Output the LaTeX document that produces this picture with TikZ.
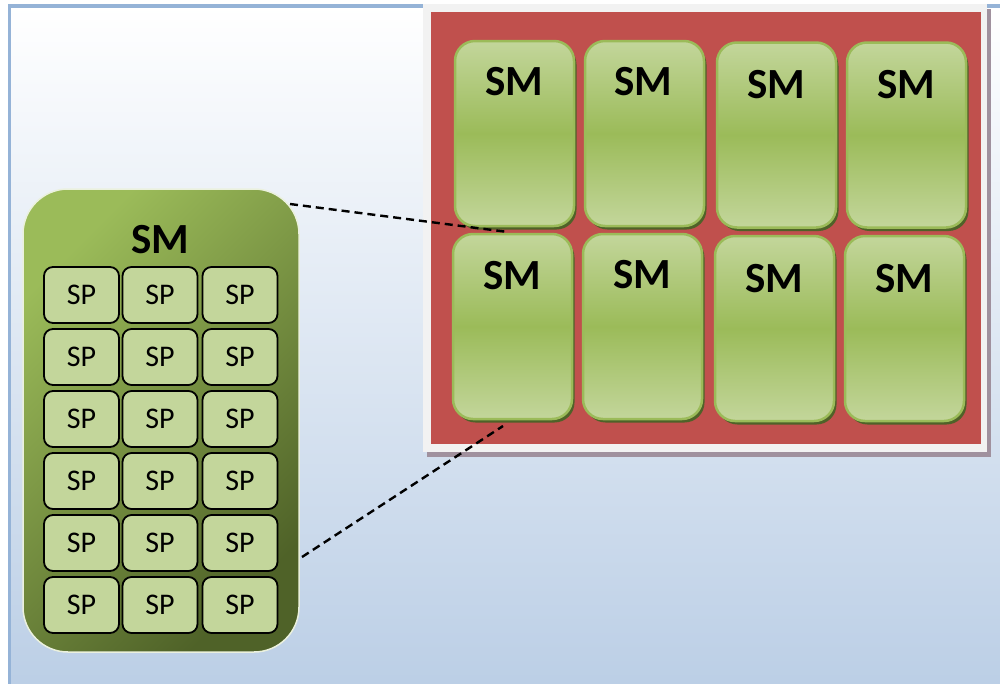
\documentclass[tikz,border=0pt]{standalone}
\usepackage{fontspec}
\setmainfont{Carlito}
\usetikzlibrary{shadows}
\definecolor{panelborder}{HTML}{95B3D7}
\definecolor{panelbot}{HTML}{B9CDE5}
\definecolor{framefill}{HTML}{F2F2F2}
\definecolor{frameshadow}{RGB}{160,145,158}
\definecolor{gpured}{HTML}{C0504D}
\definecolor{smlight}{HTML}{C3D69B}
\definecolor{smmid}{HTML}{9BBB59}
\definecolor{smdark}{HTML}{4F6228}
\definecolor{bigedge}{HTML}{EBF1DE}
\begin{document}
\begin{tikzpicture}[x=1pt,y=-1pt,
  framebox/.style={fill=framefill, minimum width=564pt, minimum height=448pt, inner sep=0pt,
    drop shadow={shadow xshift=4pt, shadow yshift=-5pt, fill=frameshadow, opacity=1}},
  diebox/.style={fill=gpured, minimum width=550pt, minimum height=432pt, inner sep=0pt},
  smbox/.style={draw=smmid, line width=2.5pt, rounded corners=20pt,
    minimum width=119pt, minimum height=185pt, inner sep=0pt,
    top color=smlight, bottom color=smlight, middle color=smmid,
    drop shadow={shadow xshift=2.5pt, shadow yshift=-3.5pt, fill=smdark, opacity=1}},
  smlabel/.style={font=\bfseries\fontsize{43}{43}\selectfont, inner sep=0pt},
  bigsm/.style={draw=bigedge, line width=1.5pt, rounded corners=45pt,
    minimum width=276pt, minimum height=463pt, inner sep=0pt,
    top color=smmid, bottom color=smdark, shading angle=45},
  spcell/.style={draw=black, line width=1.8pt, fill=smlight, rounded corners=9pt,
    minimum width=75pt, minimum height=56pt, inner sep=0pt,
    font=\fontsize{30}{30}\selectfont},
  connector/.style={draw=black, line width=2.4pt, dash pattern=on 8pt off 5pt}
]
\useasboundingbox (0,0) rectangle (1000,683);
\clip (0,0) rectangle (1000,683);
\fill[white] (0,0) rectangle (1000,683);
% background panel
\path[draw=panelborder, line width=3.5pt, top color=white, bottom color=panelbot]
  (9.5,6) rectangle (1020,710);

% chip frame
\node[framebox] (frame) at (705,228) {};
\node[diebox] (die) at (706,228) {};

% SM boxes
\node[smbox] (smA) at (514.5,133.5) {};
\node[smbox] (smB) at (644.5,133.5) {};
\node[smbox] (smC) at (776.5,135) {};
\node[smbox] (smD) at (906.5,135) {};
\node[smbox] (smE) at (512.5,326.5) {};
\node[smbox] (smF) at (642.5,326.5) {};
\node[smbox] (smG) at (774.5,328.5) {};
\node[smbox] (smH) at (904.5,328.5) {};
\node[smlabel] (lA) at (514,82) {SM};
\node[smlabel] (lB) at (643,82) {SM};
\node[smlabel] (lC) at (776,85) {SM};
\node[smlabel] (lD) at (906,85) {SM};
\node[smlabel] (lE) at (512,276) {SM};
\node[smlabel] (lF) at (642,275) {SM};
\node[smlabel] (lG) at (774,279) {SM};
\node[smlabel] (lH) at (904,279) {SM};

% enlarged SM
\node[bigsm] (big) at (161,420.5) {};
\node[smlabel] (bigl) at (160,240) {SM};
\foreach \r/\yy in {1/296,2/358,3/420,4/482,5/544,6/606}{
  \foreach \c/\xx in {1/81.5,2/160,3/240}{
    \node[spcell] (sp\r\c) at (\xx,\yy-1) {SP};
  }
}

% zoom lines
\coordinate (zA) at (290,204);
\coordinate (zB) at (508,232);
\coordinate (zC) at (302,557);
\coordinate (zD) at (503,426);
\draw[connector] (zA) -- (zB);
\draw[connector] (zC) -- (zD);
\end{tikzpicture}
\end{document}
